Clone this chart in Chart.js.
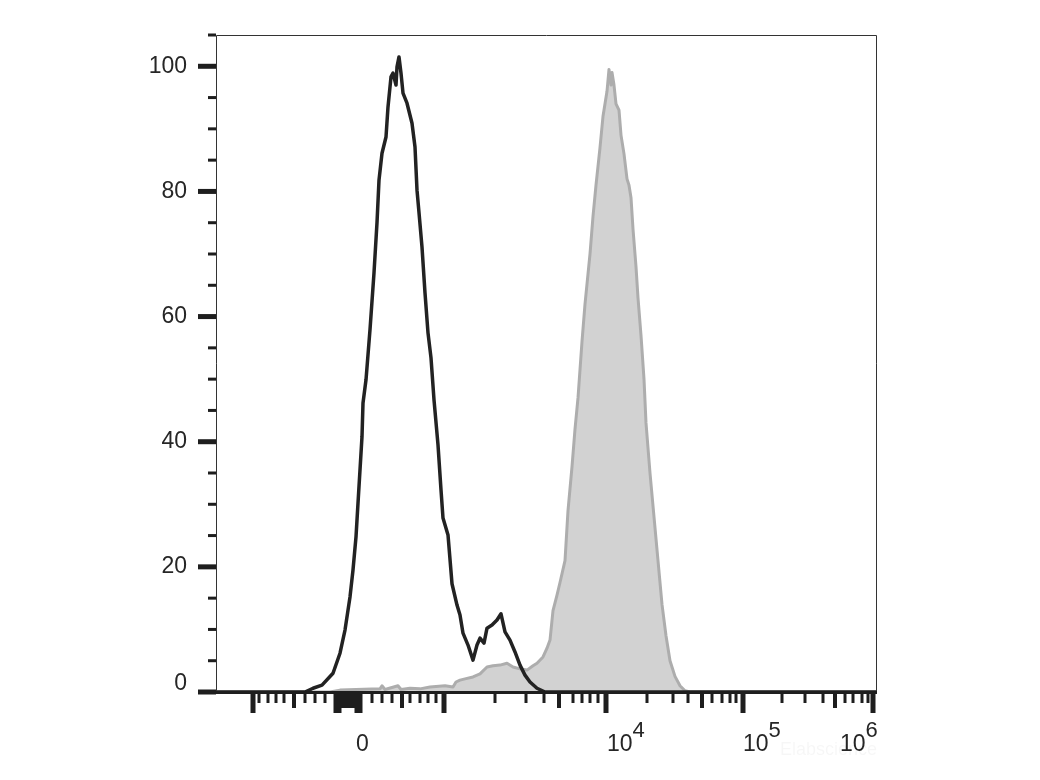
<!DOCTYPE html>
<html>
<head>
<meta charset="utf-8">
<script src="https://cdn.jsdelivr.net/npm/chart.js@4"></script>
<style>
  html, body { margin: 0; background: #fff; }
  #wrap { width: 1040px; height: 780px; }
</style>
</head>
<body>
<div id="wrap"><canvas id="histChart"></canvas></div>
<script>
// display channel along the biexponential axis (0 = left edge, 661 = right edge)
const isotypeX = [0, 89, 97, 106, 117, 124, 129, 134, 137, 140, 142, 144, 146, 147, 150, 154, 158, 161, 163, 166,
  170, 172, 175, 177, 180, 181, 183, 185, 187, 191, 196, 199, 201, 203, 206, 209, 212, 215, 218, 222,
  225, 227, 232, 236, 241, 244, 247, 252, 257, 261, 264, 268, 271, 276, 281, 285, 289, 294, 299, 304,
  309, 314, 321, 329, 661];
const isotypeY = [0, 0, 0.6, 1.1, 3.0, 6.2, 9.9, 15.2, 19.5, 24.8, 30.2, 35.5, 40.8, 46.2, 49.9, 57.9, 67.0, 75.0, 81.8, 86.1,
  88.7, 93.5, 98.3, 98.9, 97.0, 99.9, 101.5, 98.9, 95.7, 94.1, 90.9, 87.1, 80.2, 76.6, 71.1, 63.8, 57.4, 53.4, 46.7, 39.5,
  32.3, 27.8, 25.1, 17.3, 13.9, 12.3, 9.4, 7.5, 5.1, 7.5, 8.6, 7.8, 10.2, 10.7, 11.5, 12.5, 9.6, 8.3, 6.4, 4.3,
  2.7, 1.6, 0.6, 0, 0];

const stainedX = [0, 114, 124, 164, 166, 169, 182, 185, 194, 204, 214, 229, 237, 240, 244, 249, 257, 264, 271, 277,
  284, 291, 297, 304, 311, 317, 321, 327, 331, 334, 337, 341, 344, 349, 352, 356, 359, 362, 366, 369,
  374, 377, 380, 384, 387, 389, 391, 393, 395, 396, 398, 400, 403, 405, 408, 411, 413, 415, 417, 420,
  422, 425, 428, 430, 434, 438, 442, 446, 450, 454, 459, 464, 469, 474, 661];
const stainedY = [0, 0, 0.3, 0.5, 1.0, 0.4, 1.0, 0.4, 0.6, 0.5, 0.8, 1.0, 0.8, 1.6, 1.9, 2.1, 2.4, 2.9, 4.0, 4.2,
  4.3, 4.6, 4.0, 3.7, 3.5, 4.2, 4.6, 5.6, 7.0, 8.3, 13, 15.5, 17.5, 21, 29, 36, 42, 47, 56, 62,
  70, 76, 81, 87, 92, 94, 96, 99.5, 97, 99, 97, 94, 93, 89, 86, 82, 81, 79, 74, 68,
  63, 57, 50, 43, 35, 28, 21, 14, 9, 5, 2.5, 1, 0.2, 0, 0];

// axis ticks (display channels) and labels
const xLongTicks = [37, 120, 123, 141, 144, 228, 390, 527, 657];
const xMidTicks = [78, 126, 129, 132, 135, 138, 186, 343, 486, 619];
const xShortTicks = [43, 52, 60, 68, 89, 99, 109, 156, 166, 176, 194, 204, 212, 220, 279, 310, 328,
  357, 366, 374, 382, 431, 457, 472, 496, 506, 514, 520, 566, 589, 607, 629, 637, 646, 652];
const xLabelPos = [140, 391, 527, 624];
const xLabelBase = ['0', '10', '10', '10'];
const xLabelExp = ['', '4', '5', '6'];
const yMajorTicks = [0, 20, 40, 60, 80, 100];
const yMinorTicks = [5, 10, 15, 25, 30, 35, 45, 50, 55, 65, 70, 75, 85, 90, 95, 105];

const toPoints = (xs, ys) => xs.map((x, i) => ({ x: x, y: ys[i] }));

const FONT = '"Liberation Sans", Arial, sans-serif';

const flowAxes = {
  id: 'flowAxes',
  afterDatasetsDraw(chart) {
    const { ctx, chartArea: a, scales: { x, y } } = chart;
    ctx.save();

    // thin frame
    ctx.strokeStyle = '#333';
    ctx.lineWidth = 1;
    ctx.beginPath();
    ctx.moveTo(a.left + 0.5, a.bottom);
    ctx.lineTo(a.left + 0.5, a.top + 0.5);
    ctx.lineTo(a.right - 0.5, a.top + 0.5);
    ctx.lineTo(a.right - 0.5, a.bottom);
    ctx.stroke();

    // heavy bottom axis + ticks
    ctx.fillStyle = '#1e1e1e';
    ctx.fillRect(a.left, a.bottom - 1, a.right - a.left, 3);
    const xTick = (v, len, w) => {
      const px = x.getPixelForValue(v);
      ctx.fillRect(px - w / 2, a.bottom, w, len);
    };
    xLongTicks.forEach(v => xTick(v, 21, 5));
    xMidTicks.forEach(v => xTick(v, 16, 4));
    xShortTicks.forEach(v => xTick(v, 11, 3));

    const yTick = (v, len, w) => {
      const py = y.getPixelForValue(v);
      ctx.fillRect(a.left - len, py - w / 2, len, w);
    };
    yMajorTicks.forEach(v => yTick(v, 18, 5));
    yMinorTicks.forEach(v => yTick(v, 8, 3));

    // labels
    ctx.fillStyle = '#262626';
    ctx.font = '23px ' + FONT;
    ctx.textAlign = 'right';
    ctx.textBaseline = 'middle';
    yMajorTicks.forEach(v => {
      ctx.fillText(String(v), a.left - 29, y.getPixelForValue(v) + (v === 0 ? -8 : 0));
    });

    ctx.textAlign = 'left';
    ctx.textBaseline = 'alphabetic';
    xLabelPos.forEach((v, i) => {
      const px = x.getPixelForValue(v);
      ctx.font = '23px ' + FONT;
      ctx.fillText(xLabelBase[i], px, a.bottom + 59);
      if (xLabelExp[i]) {
        const w = ctx.measureText(xLabelBase[i]).width;
        ctx.font = '22px ' + FONT;
        ctx.fillText(xLabelExp[i], px + w, a.bottom + 45);
      }
    });

    // faint watermark
    ctx.fillStyle = 'rgba(0,0,0,0.035)';
    ctx.font = '18px ' + FONT;
    ctx.fillText('Elabscience', a.right - 97, a.bottom + 63);
    ctx.restore();
  }
};

new Chart(document.getElementById('histChart'), {
  type: 'line',
  data: {
    datasets: [{
      label: 'Isotype',
      data: toPoints(isotypeX, isotypeY),
      borderColor: '#222222',
      borderWidth: 3.5,
      borderJoinStyle: 'round',
      fill: false,
      pointRadius: 0,
      tension: 0
    }, {
      label: 'Stained',
      data: toPoints(stainedX, stainedY),
      borderColor: '#adadad',
      backgroundColor: '#d2d2d2',
      borderWidth: 3,
      borderJoinStyle: 'round',
      fill: 'origin',
      pointRadius: 0,
      tension: 0
    }]
  },
  options: {
    responsive: true,
    maintainAspectRatio: false,
    animation: false,
    layout: { padding: { left: 216, right: 163, top: 35, bottom: 88 } },
    plugins: { legend: { display: false }, tooltip: { enabled: false } },
    scales: {
      x: { type: 'linear', min: 0, max: 661, display: false },
      y: { min: 0, max: 105, display: false }
    }
  },
  plugins: [flowAxes]
});
</script>
</body>
</html>
